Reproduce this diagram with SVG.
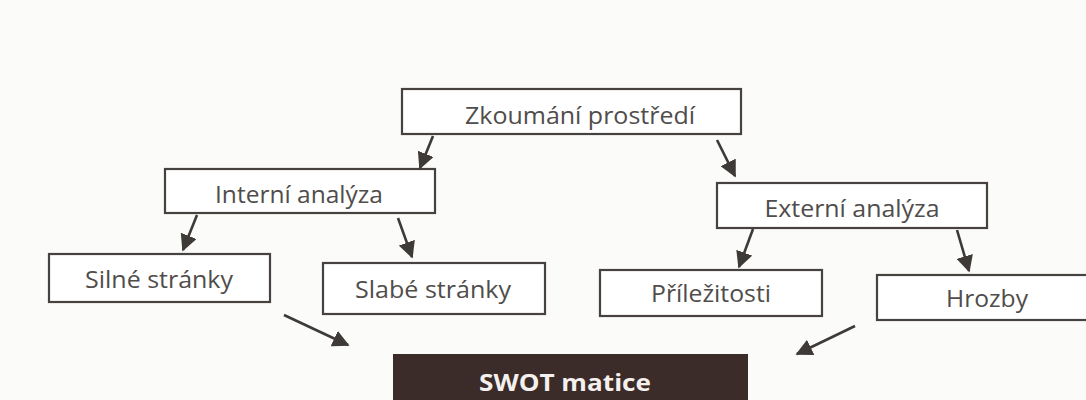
<svg xmlns="http://www.w3.org/2000/svg" width="1086" height="400" viewBox="0 0 1086 400">
<defs>
<style>
.box{fill:#ffffff;stroke:#454240;stroke-width:2.2}
.lbl{font-family:"Open Sans","Noto Sans",sans-serif;font-size:24px;fill:#504d4b;text-anchor:middle}
.dark{fill:#3b2b29}
.swot{font-family:"Open Sans","Noto Sans",sans-serif;font-size:23px;font-weight:bold;fill:#f4f0ee;text-anchor:middle}
.arr{stroke:#3d3a38;stroke-width:2.6;fill:none;marker-end:url(#ah)}
</style>
<marker id="ah" viewBox="0 0 10 10" refX="9" refY="5" markerWidth="6.5" markerHeight="6.5" markerUnits="strokeWidth" orient="auto">
<path d="M0,0 L10,5 L0,10 z" fill="#3d3a38"/>
</marker>
</defs>
<rect width="1086" height="400" fill="#fbfbfa"/>
<g id="zkoumani">
<rect class="box" x="402" y="89" width="339" height="45"/>
<text class="lbl" x="580" y="124" textLength="230" lengthAdjust="spacingAndGlyphs">Zkoumání prostředí</text>
</g>
<g id="interni">
<rect class="box" x="165" y="169" width="270" height="44"/>
<text class="lbl" x="299" y="203" textLength="168" lengthAdjust="spacingAndGlyphs">Interní analýza</text>
</g>
<g id="externi">
<rect class="box" x="717" y="183" width="270" height="45"/>
<text class="lbl" x="852" y="217" textLength="175" lengthAdjust="spacingAndGlyphs">Externí analýza</text>
</g>
<g id="silne">
<rect class="box" x="49" y="254" width="221" height="48"/>
<text class="lbl" x="159" y="288" textLength="148" lengthAdjust="spacingAndGlyphs">Silné stránky</text>
</g>
<g id="slabe">
<rect class="box" x="323" y="263" width="222" height="51"/>
<text class="lbl" x="433" y="298" textLength="156" lengthAdjust="spacingAndGlyphs">Slabé stránky</text>
</g>
<g id="prilezitosti">
<rect class="box" x="600" y="270" width="222" height="46"/>
<text class="lbl" x="711" y="302" textLength="120" lengthAdjust="spacingAndGlyphs">Příležitosti</text>
</g>
<g id="hrozby">
<rect class="box" x="877" y="275" width="215" height="45"/>
<text class="lbl" x="987" y="307" textLength="82" lengthAdjust="spacingAndGlyphs">Hrozby</text>
</g>
<g id="swot">
<rect class="dark" x="393" y="354" width="355" height="52"/>
<text class="swot" x="565" y="391" textLength="172" lengthAdjust="spacingAndGlyphs">SWOT matice</text>
</g>
<g id="connectors">
<line class="arr" x1="433" y1="136" x2="420" y2="168"/>
<line class="arr" x1="717" y1="140" x2="735" y2="176"/>
<line class="arr" x1="197" y1="215" x2="183" y2="250"/>
<line class="arr" x1="398" y1="218" x2="412" y2="257"/>
<line class="arr" x1="753" y1="229" x2="739" y2="267"/>
<line class="arr" x1="957" y1="230" x2="969" y2="271"/>
<line class="arr" x1="284" y1="315" x2="348" y2="345"/>
<line class="arr" x1="855" y1="326" x2="797" y2="354"/>
</g>
</svg>
